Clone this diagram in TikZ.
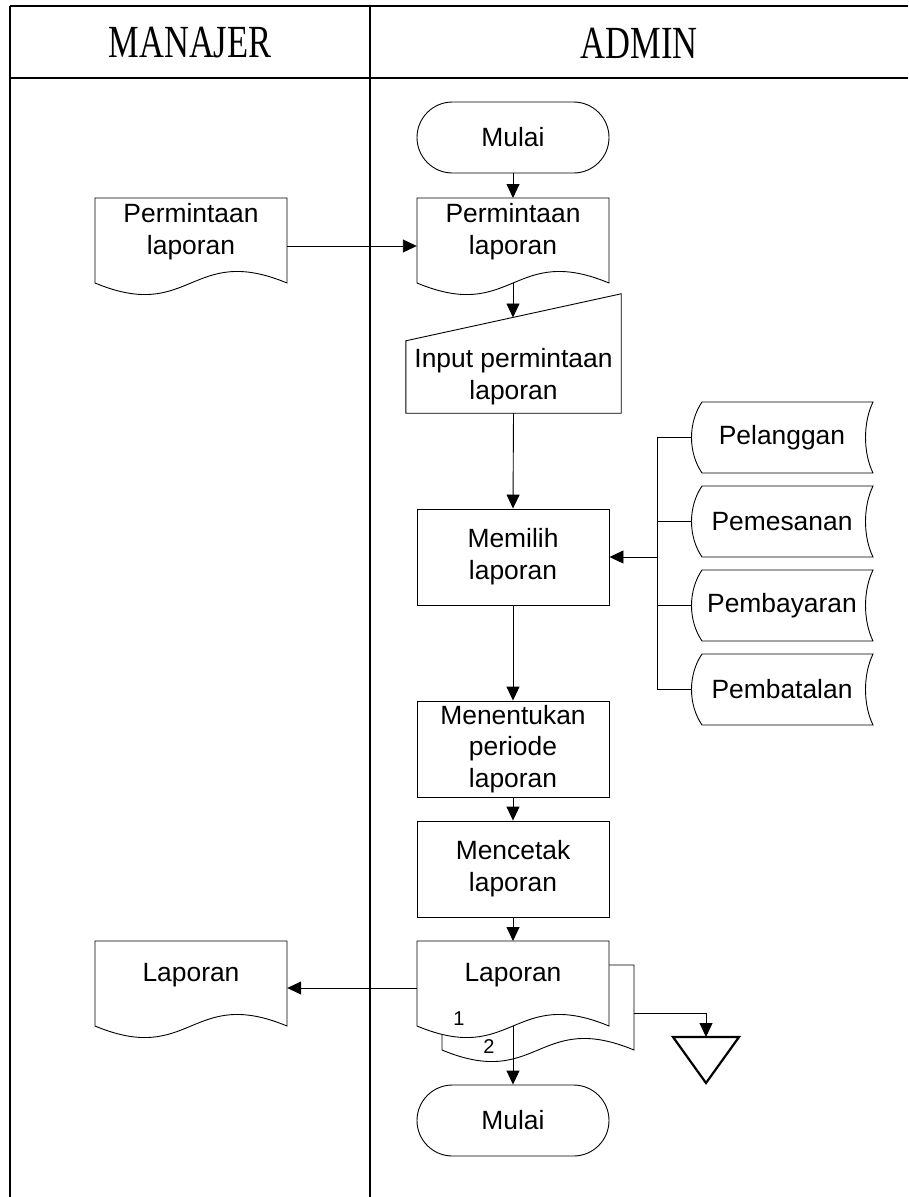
\documentclass[tikz,border=0pt]{standalone}
\usepackage{fontspec}
\usepackage{graphicx}
\setmainfont{Liberation Sans}
\newfontfamily\hdrfont{Liberation Serif}
\usetikzlibrary{calc,arrows.meta}

% document shape: #1 centre coordinate, #2 dx, #3 dy, #4 extra options
\newcommand\docshape[4]{%
  \draw[ln,#4]
    ($(#1)+({-96+#2},{-34+#3})$) -- ($(#1)+({96+#2},{-34+#3})$) -- ($(#1)+({96+#2},{51+#3})$)
    .. controls ($(#1)+({#2},{11+#3})$) and ($(#1)+({#2},{91+#3})$) .. ($(#1)+({-96+#2},{51+#3})$) -- cycle;}
% stored data shape around node #1
\newcommand\sdshape[1]{%
  \draw[ln] ($(#1.center)+(91,-35.5)$) -- ($(#1.center)+(-80,-35.5)$)
    .. controls ($(#1.center)+(-94,-15)$) and ($(#1.center)+(-94,15)$) .. ($(#1.center)+(-80,35.5)$)
    -- ($(#1.center)+(91,35.5)$)
    .. controls ($(#1.center)+(81,15)$) and ($(#1.center)+(81,-15)$) .. ($(#1.center)+(91,-35.5)$) -- cycle;}

\begin{document}
\begin{tikzpicture}[x=1pt,y=-1pt,
  every node/.style={font=\fontsize{26.4}{31.7}\selectfont, align=center, inner sep=0pt},
  ln/.style={line width=0.9pt, draw=black},
  frame/.style={line width=1.1pt, draw=black},
  arr/.style={ln, -{Triangle[length=14pt,width=13pt]}},
  procbox/.style={draw, line width=0.9pt, minimum width=192pt, minimum height=96pt},
  termbox/.style={draw, line width=0.9pt, minimum width=192pt, minimum height=71pt, rounded corners=35.5pt},
  txtnode/.style={minimum width=192pt},
  sdnode/.style={minimum width=150pt, minimum height=71pt},
  numlbl/.style={font=\fontsize{20}{22}\selectfont},
  hdr/.style={font=\hdrfont\fontsize{46}{54}\selectfont}
]
\useasboundingbox (0,0) rectangle (908,1197);

% swimlane frame
\draw[frame] (10,6) -- (908,6);
\draw[frame] (10,78) -- (908,78);
\draw[frame] (10,6) -- (10,1197);
\draw[frame] (370,6) -- (370,1197);
\node[hdr] (hm) at (190,43) {\scalebox{0.75}[1]{MANAJER}};
\node[hdr] (ha) at (639,43) {\scalebox{0.75}[1]{ADMIN}};

% terminals
\node[termbox] (mulai1) at (513,137.5) {Mulai};
\node[termbox] (mulai2) at (513,1120.5) {Mulai};

% documents
\coordinate (pmc) at (191,232);
\coordinate (pac) at (513,232);
\docshape{pmc}{0}{0}{}
\docshape{pac}{0}{0}{}
\node[txtnode] (pm) at (pmc) {Permintaan\\laporan};
\node[txtnode] (pa) at (pac) {Permintaan\\laporan};
\coordinate (pa-top) at ($(pa.center)+(0,-34)$);
\coordinate (pa-bot) at ($(pa.center)+(0,51)$);

% manual input
\node[minimum width=215pt, minimum height=72pt] (inp) at (513.5,377) {Input permintaan\\laporan};
\draw[ln] (inp.south west) -- (inp.north west) -- ($(inp.north east)+(0,-47)$) -- (inp.south east) -- cycle;
\coordinate (inp-top) at ($(inp.center)+(-0.5,-59.5)$);

% processes
\node[procbox] (pilih) at (513,557) {Memilih\\laporan};
\node[procbox] (periode) at (513,749) {Menentukan\\periode\\laporan};
\node[procbox] (cetak) at (513,869) {Mencetak\\laporan};

% stored data
\node[sdnode] (pel) at (782,437.5) {Pelanggan};
\node[sdnode] (pes) at (782,521.5) {Pemesanan};
\node[sdnode] (bay) at (782,605.5) {Pembayaran};
\node[sdnode] (bat) at (782,689.5) {Pembatalan};
\sdshape{pel}
\sdshape{pes}
\sdshape{bay}
\sdshape{bat}
\coordinate (bj) at (657,557);

% report documents (multi copy)
\coordinate (lmc) at (191,975);
\coordinate (lac) at (513,975);
\docshape{lmc}{0}{0}{}
\docshape{lac}{25}{24}{fill=white}
\docshape{lac}{0}{0}{fill=white}
\node[txtnode] (lapM) at (lmc) {Laporan};
\node[txtnode] (lapA) at (lac) {Laporan};
\node[numlbl] (n1) at (459,1019) {1};
\node[numlbl] (n2) at (489,1047) {2};
\coordinate (lapA-top) at ($(lapA.center)+(0,-34)$);
\coordinate (lapA-bot) at ($(lapA.center)+(0,51)$);
\coordinate (lapB-r) at ($(lapA.center)+(121,38)$);

% offline storage
\coordinate (tri) at (706,1037);
\draw[line width=2.2pt, line join=miter] ($(tri)+(-33,0)$) -- ($(tri)+(33,0)$) -- ($(tri)+(0,46)$) -- cycle;

% connectors
\draw[arr] (mulai1.south) -- (pa-top);
\draw[arr] ([yshift=-14pt]pm.east) -- ([yshift=-14pt]pa.west);
\draw[arr] (pa-bot) -- (inp-top);
\draw[arr] (inp.south) -- (pilih.north);
\draw[ln] ([xshift=-90.5pt]pel.center) -| (bj);
\draw[ln] ([xshift=-90.5pt]pes.center) -| (bj);
\draw[ln] ([xshift=-90.5pt]bay.center) -| (bj);
\draw[ln] ([xshift=-90.5pt]bat.center) -| (bj);
\draw[arr] (bj) -- (pilih.east);
\draw[arr] (pilih.south) -- (periode.north);
\draw[arr] (periode.south) -- (cetak.north);
\draw[arr] (cetak.south) -- (lapA-top);
\draw[arr] ([yshift=-13pt]lapA.west) -- ([yshift=-13pt]lapM.east);
\draw[arr] (lapA-bot) -- (mulai2.north);
\draw[arr] (lapB-r) -| (tri);
\end{tikzpicture}
\end{document}
